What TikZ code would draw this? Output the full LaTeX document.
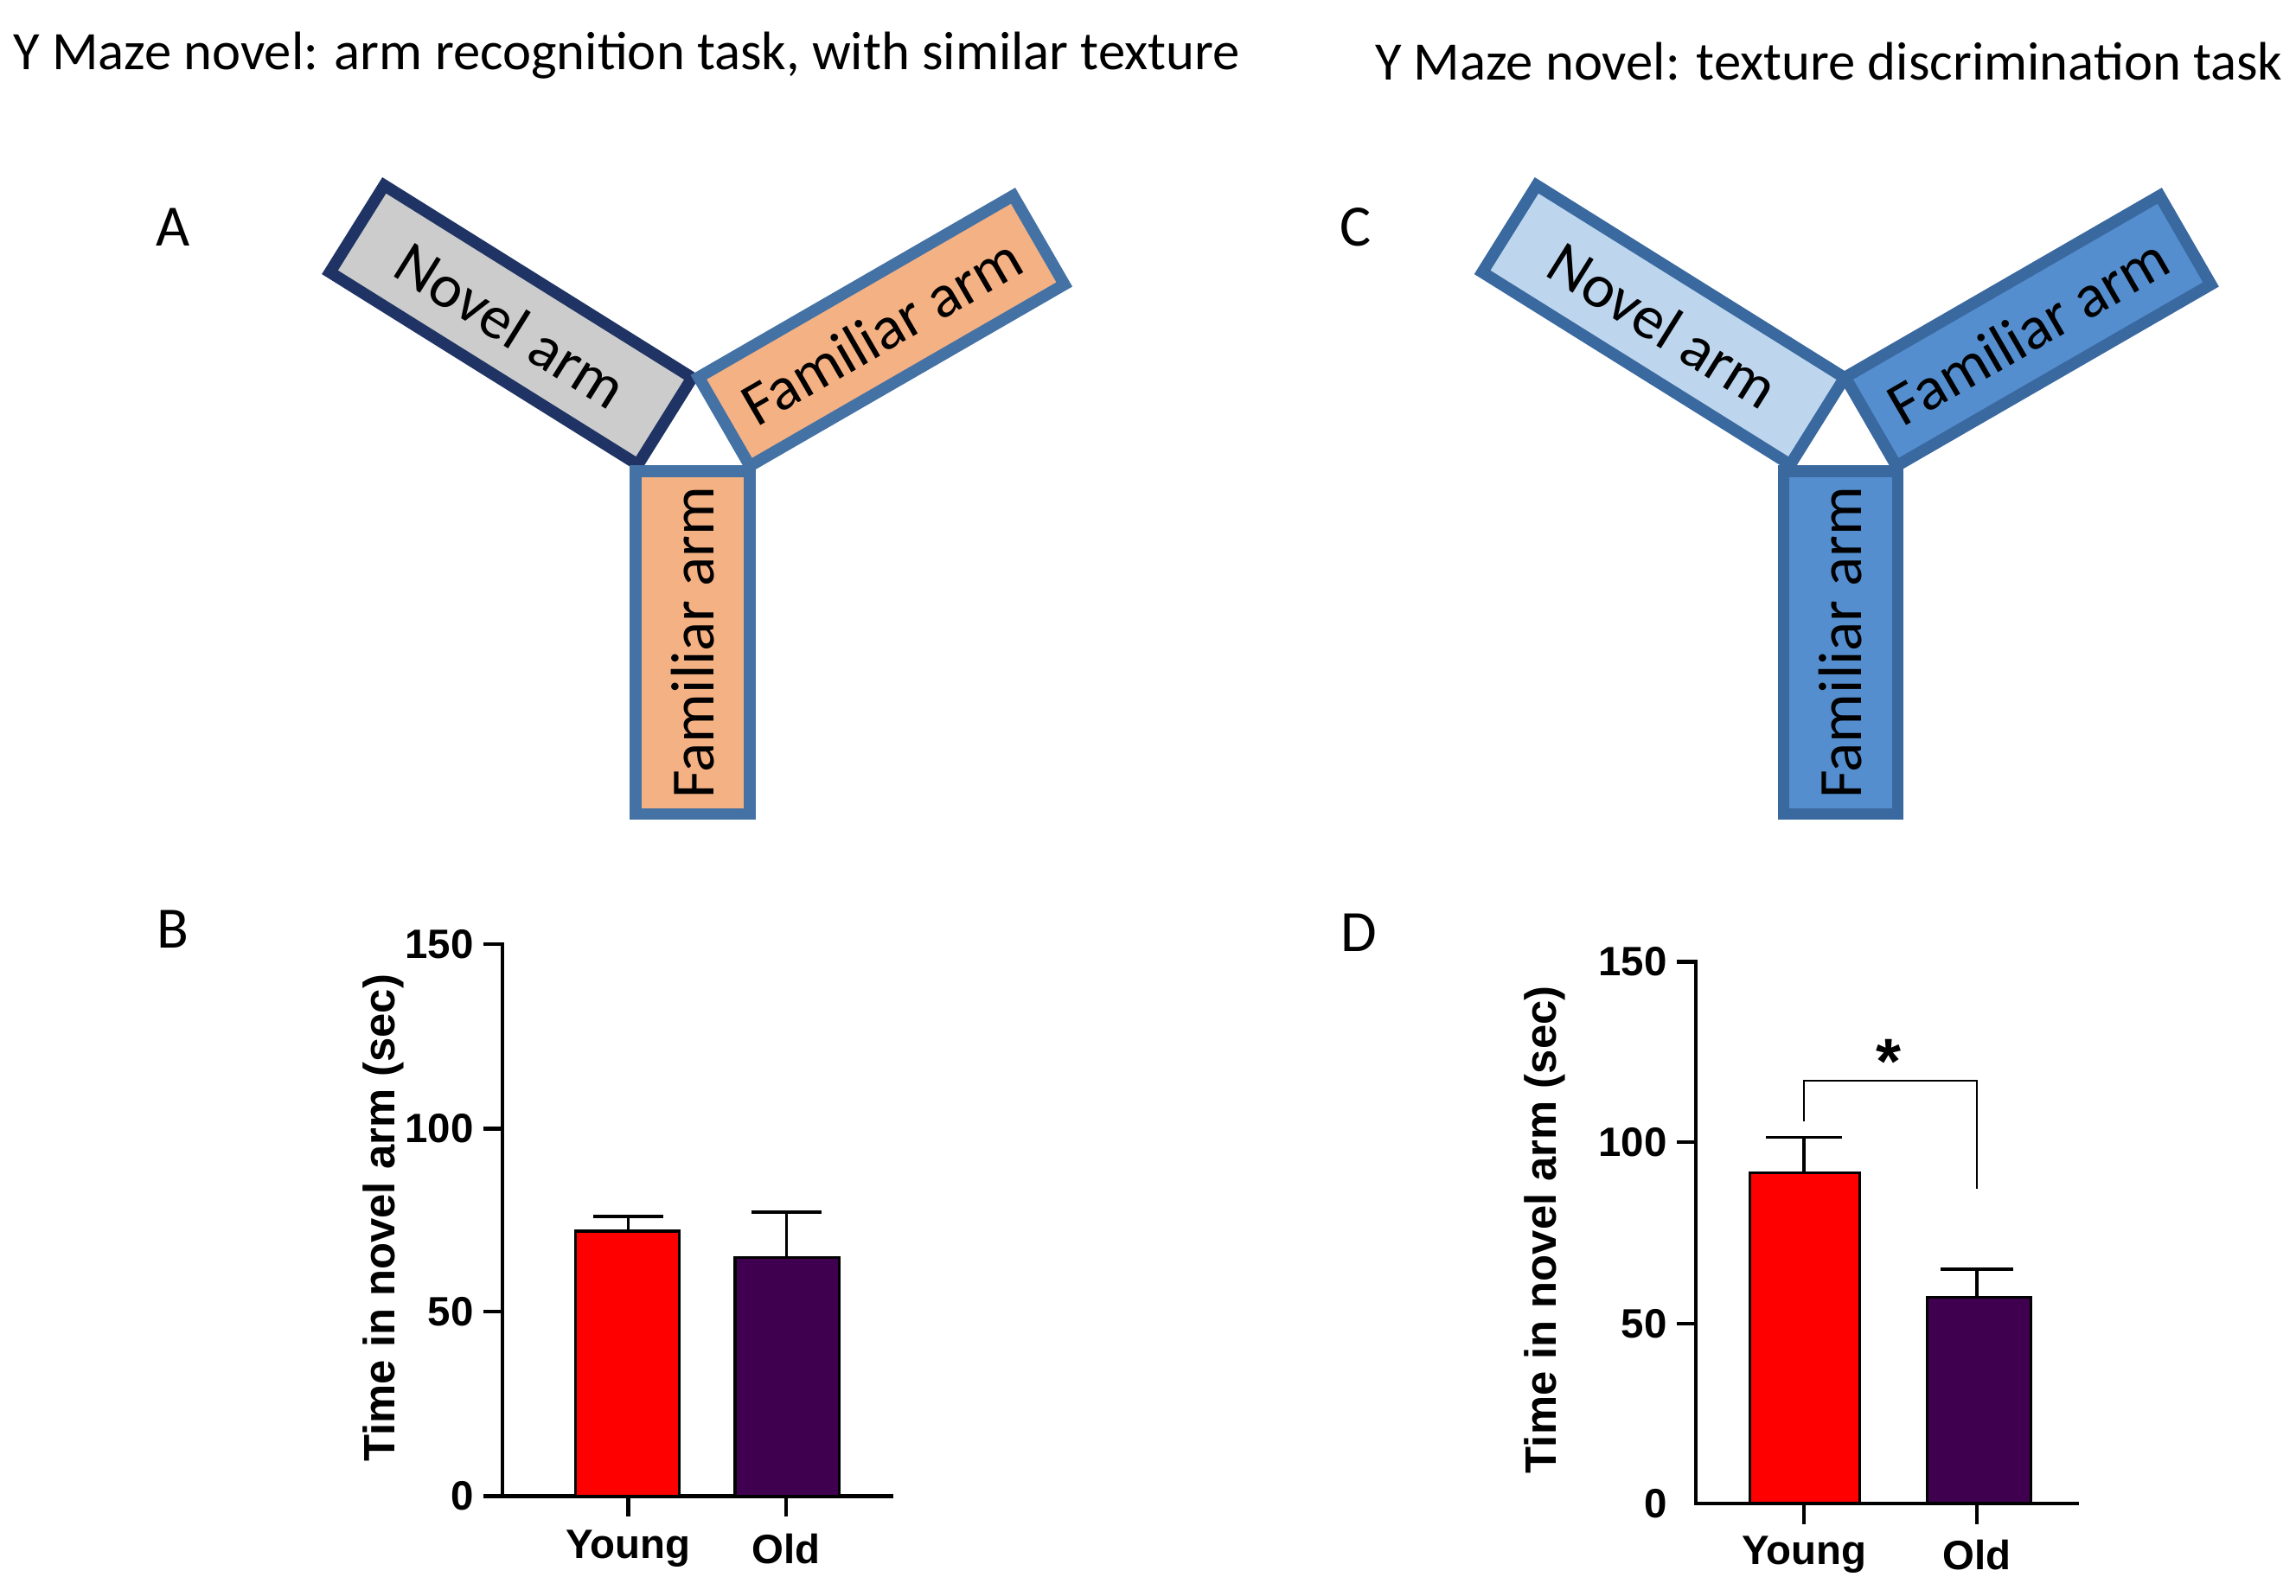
\documentclass[tikz,border=0pt]{standalone}
\usepackage{fontspec}
\setmainfont{Carlito}
\newfontfamily\arl{Liberation Sans}
\begin{document}
\begin{tikzpicture}[x=1pt,y=-1pt,
 ttl/.style={font=\fontsize{37}{40}\selectfont,anchor=center},
 lab/.style={font=\fontsize{40}{42}\selectfont},
 arm/.style={draw,line width=8pt,minimum height=70pt,minimum width=248pt,font=\fontsize{42}{44}\selectfont,inner sep=0pt},
 ax/.style={line width=2.6pt},
 tk/.style={font=\arl\bfseries\fontsize{28}{30}\selectfont},
 yl/.style={font=\arl\bfseries\fontsize{30}{32}\selectfont,rotate=90},
 err/.style={line width=2pt},
 bar/.style={draw=black,line width=2pt}]
\definecolor{navy}{RGB}{31,52,100}
\definecolor{steel}{RGB}{68,114,165}
\definecolor{peach}{RGB}{244,177,131}
\definecolor{grayf}{RGB}{204,204,204}
\definecolor{lblue}{RGB}{189,214,238}
\definecolor{mblue}{RGB}{84,142,206}
\definecolor{bord}{RGB}{58,105,160}
\definecolor{oldc}{RGB}{64,0,80}
\useasboundingbox (0,0) rectangle (1568,1090);
\fill[white] (0,0) rectangle (1568,1090);
\node[ttl] (t1) at (428,38) {Y Maze novel: arm recognition task, with similar texture};
\node[ttl] (t2) at (1249,42) {Y Maze novel: texture discrimination task};
\node[lab] (A) at (118,155) {A};
\node[lab] (C) at (926,155) {C};
\node[lab] (B) at (118,635) {B};
\node[lab] (D) at (928,637) {D};
% maze A
\node[arm,draw=navy,fill=grayf,rotate=-32] (an) at (349,222) {Novel arm};
\node[arm,draw=steel,fill=peach,rotate=30] (af) at (602,226) {Familiar arm};
\node[arm,draw=steel,fill=peach,rotate=90,minimum width=234pt,minimum height=78pt] (ab) at (473,439) {Familiar arm};
% maze C
\node[arm,draw=bord,fill=lblue,rotate=-32] (cn) at (1136,222) {Novel arm};
\node[arm,draw=bord,fill=mblue,rotate=30] (cf) at (1385,226) {Familiar arm};
\node[arm,draw=bord,fill=mblue,rotate=90,minimum width=234pt,minimum height=78pt] (cb) at (1257,439) {Familiar arm};
% chart B
\draw[ax] (330,645) -- (343,645) -- (343,1022) -- (610,1022);
\draw[ax] (330,771) -- (343,771) (330,896) -- (343,896) (330,1022) -- (343,1022);
\draw[ax] (429,1022) -- (429,1036) (537,1022) -- (537,1036);
\node[tk,anchor=east] (b150) at (327,645) {150};
\node[tk,anchor=east] (b100) at (327,771) {100};
\node[tk,anchor=east] (b50) at (327,896) {50};
\node[tk,anchor=east] (b0) at (327,1022) {0};
\draw[err] (429,841) -- (429,831) (405,831) -- (453,831);
\draw[err] (537,859) -- (537,828) (513,828) -- (561,828);
\draw[bar,fill=red] (393,1022) rectangle (464,841);
\draw[bar,fill=oldc] (502,1022) rectangle (573,859);
\node[tk] (by) at (429,1058) {Young};
\node[tk] (bo) at (537,1058) {Old};
\node[yl] (byl) at (262,832) {Time in novel arm (sec)};
% chart D
\draw[ax] (1145,657) -- (1158,657) -- (1158,1027) -- (1420,1027);
\draw[ax] (1145,780) -- (1158,780) (1145,904) -- (1158,904);
\draw[ax] (1232,1027) -- (1232,1041) (1350,1027) -- (1350,1041);
\node[tk,anchor=east] (d150) at (1142,657) {150};
\node[tk,anchor=east] (d100) at (1142,780) {100};
\node[tk,anchor=east] (d50) at (1142,904) {50};
\node[tk,anchor=east] (d0) at (1142,1027) {0};
\draw[err] (1232,801) -- (1232,777) (1206,777) -- (1258,777);
\draw[err] (1350,886) -- (1350,867) (1325,867) -- (1375,867);
\draw[bar,fill=red] (1195,1027) rectangle (1270,801);
\draw[bar,fill=oldc] (1316,1027) rectangle (1387,886);
\draw[line width=1.3pt] (1232,766) -- (1232,738) -- (1350,738) -- (1350,812);
\node[font=\arl\bfseries\fontsize{44}{44}\selectfont] (st) at (1290,725) {*};
\node[tk] (dy) at (1232,1062) {Young};
\node[tk] (do) at (1350,1062) {Old};
\node[yl] (dyl) at (1055,840) {Time in novel arm (sec)};
\end{tikzpicture}
\end{document}
